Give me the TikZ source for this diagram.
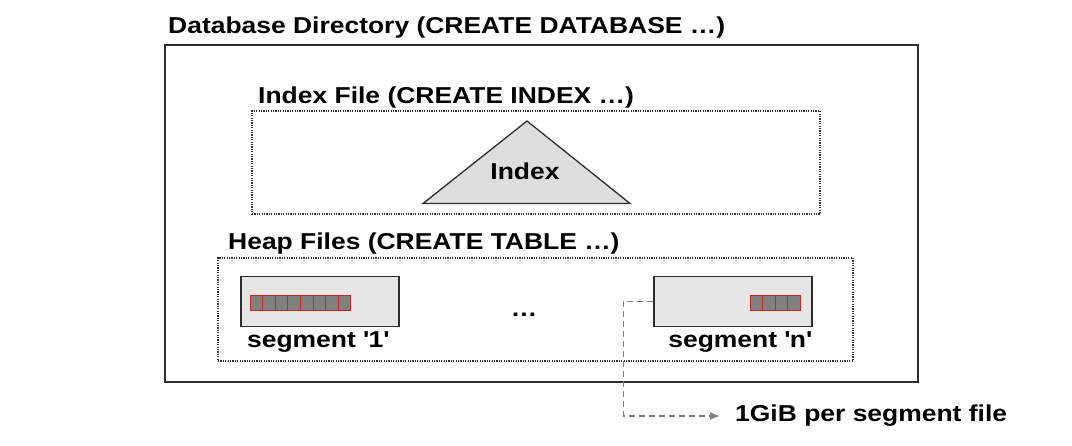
\documentclass[tikz,border=0pt]{standalone}
\usepackage{fontspec}
\setmainfont{Liberation Sans}[FakeStretch=1.15]
\usetikzlibrary{arrows.meta, positioning}
\definecolor{framegray}{RGB}{45, 45, 45}
\definecolor{dotgray}  {RGB}{50, 50, 50}
\definecolor{segfill}  {RGB}{230,230,230}
\definecolor{trifill}  {RGB}{222,222,222}
\definecolor{cellfill} {RGB}{128,128,128}
\definecolor{cellred}  {RGB}{200, 40, 30}
\definecolor{linkgray} {RGB}{125,125,125}
\tikzset{
  label/.style={font=\fontsize{23}{27}\selectfont\bfseries, inner sep=0pt, anchor=base west},
  caption/.style={font=\fontsize{23}{27}\selectfont\bfseries, inner sep=0pt, anchor=base},
  dirbox/.style={draw=framegray, line width=1.5pt, minimum width=753pt, minimum height=337pt},
  filebox/.style={draw=dotgray, dash pattern=on 1.2pt off 1.2pt, line width=1.3pt},
  segbox/.style={draw=framegray, fill=segfill, line width=1.3pt, minimum width=158pt, minimum height=50pt},
  cell/.style={draw=cellred, fill=cellfill, line width=1pt, minimum width=12.6pt, minimum height=15pt, inner sep=0pt},
  link/.style={draw=linkgray, dash pattern=on 6pt off 4pt, line width=1.6pt, -{Latex[length=10pt, width=8pt]}}
}
\begin{document}
\begin{tikzpicture}[x=1pt, y=-1pt]
  \useasboundingbox (0,0) rectangle (1072,446);
  % database directory
  \node[dirbox] (dbdir) at (541.5,213.5) {};
  \node[label] (dbtitle) at (168,34) {Database Directory (CREATE DATABASE \dots)};
  % index file
  \node[filebox, minimum width=568pt, minimum height=103pt] (idxfile) at (536,162.5) {};
  \node[label] (idxtitle) at (258,104) {Index File (CREATE INDEX \dots)};
  \draw[draw=framegray, fill=trifill, line width=1.3pt]
    (527,121) coordinate (apex) -- (630,203.5) coordinate (baseR) -- (423,203.5) coordinate (baseL) -- cycle;
  \node[caption] (idx) at (525,180) {Index};
  % heap files
  \node[filebox, minimum width=635pt, minimum height=103pt] (heap) at (535.5,309.5) {};
  \node[label] (heaptitle) at (228,250) {Heap Files (CREATE TABLE \dots)};
  \node[segbox] (seg1) at (320,301.5) {};
  \foreach \i in {0,...,7}
    \node[cell] (cA\i) at ({256.3+12.6*\i},303.5) {};
  \node[caption] (seg1lbl) at (318,348) {segment \textquotesingle1\textquotesingle};
  \node[caption] (dots) at (524,317) {\dots};
  \node[segbox] (segn) at (733,301.5) {};
  \foreach \i in {0,...,3}
    \node[cell] (cB\i) at ({756.3+12.6*\i},303.5) {};
  \node[caption] (segnlbl) at (740,348) {segment \textquotesingle n\textquotesingle};
  % segment size note
  \node[label, anchor=west] (note) at (735,416) {1GiB per segment file};
  \draw[link, shorten >=15pt] (segn.west) -- ++(-30,0) |- (note.west);
\end{tikzpicture}
\end{document}
